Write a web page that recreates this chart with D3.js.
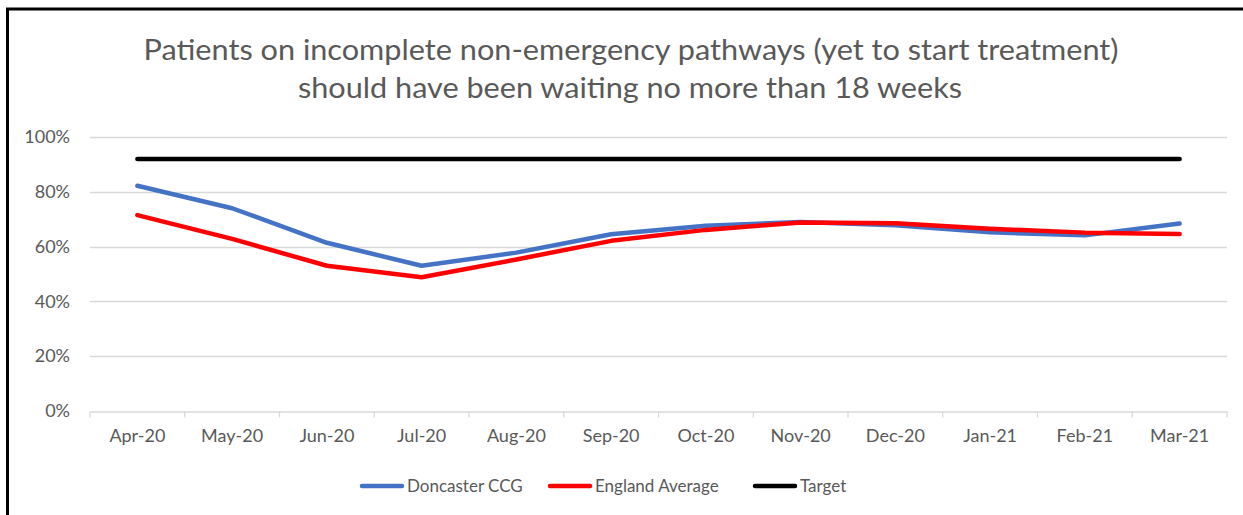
<!DOCTYPE html>
<html>
<head>
<meta charset="utf-8">
<script src="https://cdn.jsdelivr.net/npm/d3@7"></script>
<style>
  body { margin: 0; background: #fff; }
  svg text { font-family: Lato, "Open Sans", sans-serif; }
</style>
</head>
<body>
<div id="chart"></div>
<script>
// chart values
const months = ["Apr-20", "May-20", "Jun-20", "Jul-20", "Aug-20", "Sep-20",
  "Oct-20", "Nov-20", "Dec-20", "Jan-21", "Feb-21", "Mar-21"];
const doncaster = [0.822, 0.74, 0.614, 0.530, 0.578, 0.645, 0.676, 0.690, 0.678, 0.652, 0.641, 0.684];
const england = [0.715, 0.628, 0.530, 0.488, 0.553, 0.621, 0.661, 0.688, 0.685, 0.665, 0.651, 0.646];
const target = months.map(() => 0.92);
const yTicks = [0, 0.2, 0.4, 0.6, 0.8, 1];

const series = [
  { name: "Doncaster CCG", values: doncaster, color: "#4472C4" },
  { name: "England Average", values: england, color: "#FF0000" },
  { name: "Target", values: target, color: "#000000" }
];

const width = 1243, height = 515;
const margin = { top: 137, right: 16, bottom: 104, left: 90 };

const svg = d3.select("#chart").append("svg")
  .attr("width", width)
  .attr("height", height);

// frame (top and left edges only)
svg.append("path")
  .attr("d", `M7.5,${height} V9 H${width}`)
  .attr("fill", "none")
  .attr("stroke", "#000")
  .attr("stroke-width", 3);

// title
const title = svg.append("text")
  .attr("text-anchor", "middle")
  .attr("fill", "#595959")
  .style("font-size", "28px");
title.append("tspan").attr("x", 631).attr("y", 60)
  .attr("textLength", 975).attr("lengthAdjust", "spacingAndGlyphs")
  .text("Patients on incomplete non-emergency pathways (yet to start treatment)");
title.append("tspan").attr("x", 630).attr("y", 98)
  .attr("textLength", 664).attr("lengthAdjust", "spacingAndGlyphs")
  .text("should have been waiting no more than 18 weeks");

const x = d3.scaleBand()
  .domain(months)
  .range([margin.left, width - margin.right]);

const y = d3.scaleLinear()
  .domain([0, 1])
  .range([height - margin.bottom, margin.top]);

// gridlines
svg.append("g")
  .selectAll("line")
  .data(yTicks.filter(d => d > 0))
  .join("line")
  .attr("x1", margin.left)
  .attr("x2", width - margin.right)
  .attr("y1", d => Math.round(y(d)) + 0.5)
  .attr("y2", d => Math.round(y(d)) + 0.5)
  .attr("stroke", "#d9d9d9")
  .attr("stroke-width", 1.3);

// y axis labels
svg.append("g")
  .attr("transform", `translate(${margin.left},0)`)
  .call(d3.axisLeft(y).tickValues(yTicks).tickFormat(d3.format(".0%")).tickSize(0).tickPadding(20))
  .call(g => g.select(".domain").remove())
  .call(g => g.selectAll("text").attr("fill", "#595959").style("font-size", "18px"));

// x axis
const xAxis = svg.append("g")
  .attr("transform", `translate(0,${Math.round(y(0)) + 0.5})`)
  .call(d3.axisBottom(x).tickSize(0).tickPadding(18));
xAxis.select(".domain").attr("stroke", "#d9d9d9").attr("stroke-width", 1.3);
xAxis.selectAll("text").attr("fill", "#595959").style("font-size", "18px");
// tick marks at band edges
xAxis.append("g")
  .selectAll("line")
  .data(months.map(m => x(m)).concat([x.range()[1]]))
  .join("line")
  .attr("x1", d => d).attr("x2", d => d)
  .attr("y1", 0).attr("y2", 6)
  .attr("stroke", "#d9d9d9")
  .attr("stroke-width", 1.3);

// lines
const line = d3.line()
  .x((d, i) => x(months[i]) + x.bandwidth() / 2)
  .y(d => y(d));

svg.append("g")
  .selectAll("path")
  .data([series[2], series[0], series[1]])
  .join("path")
  .attr("d", d => line(d.values))
  .attr("fill", "none")
  .attr("stroke", d => d.color)
  .attr("stroke-width", 4.5)
  .attr("stroke-linecap", "round")
  .attr("stroke-linejoin", "round");

// legend
const legendX = [360, 548, 753];
const legend = svg.append("g")
  .selectAll("g")
  .data(series)
  .join("g")
  .attr("transform", (d, i) => `translate(${legendX[i]},486)`);
legend.append("line")
  .attr("x1", 2).attr("x2", 42)
  .attr("stroke", d => d.color)
  .attr("stroke-width", 4.5)
  .attr("stroke-linecap", "round");
legend.append("text")
  .attr("x", 47)
  .attr("dy", "0.35em")
  .attr("fill", "#595959")
  .style("font-size", "17px")
  .text(d => d.name);
</script>
</body>
</html>
